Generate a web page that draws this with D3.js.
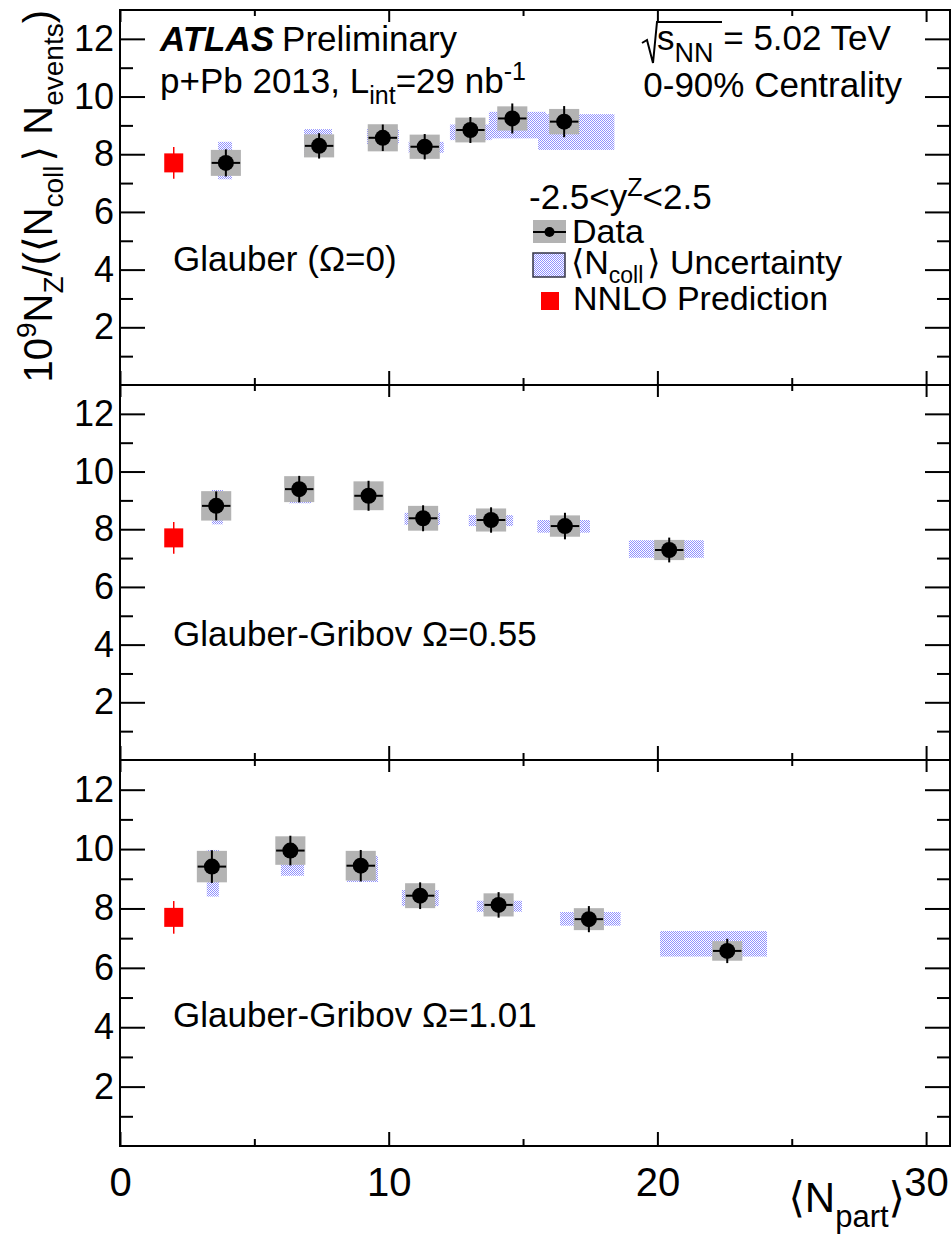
<!DOCTYPE html>
<html>
<head>
<meta charset="utf-8">
<script src="https://cdn.jsdelivr.net/npm/d3@7"></script>
<style>
body { margin: 0; background: #fff; }
svg text { font-family: "Liberation Sans", Arial, Helvetica, "DejaVu Sans", sans-serif; fill: #000; }
</style>
</head>
<body>
<div id="chart"></div>
<script>
// NNLO prediction (same in every panel)
var nnloNpart = 2.0, nnloValue = 7.70, nnloErr = 0.55;

var panelLabels = ["Glauber (\u03A9=0)", "Glauber-Gribov \u03A9=0.55", "Glauber-Gribov \u03A9=1.01"];

// Glauber, Omega = 0
var npart0 = [3.94, 7.41, 9.78, 11.34, 13.04, 14.60, 16.53];
var value0 = [7.70, 8.29, 8.57, 8.26, 8.84, 9.24, 9.13];
var stat0  = [0.47, 0.44, 0.46, 0.44, 0.45, 0.52, 0.54];
var sys0   = [0.45, 0.40, 0.47, 0.42, 0.43, 0.42, 0.44];
// <Ncoll> uncertainty boxes: [npart lo, npart hi, value lo, value hi]
var ncoll0 = [[3.65, 4.17, 7.13, 8.43], [6.85, 7.89, 7.91, 8.87], [9.19, 10.38, 8.35, 8.87],
              [10.74, 12.05, 8.05, 8.43], [12.28, 13.83, 8.49, 9.03], [13.73, 15.85, 8.55, 9.47],
              [15.56, 18.40, 8.15, 9.39]];

// Glauber-Gribov, Omega = 0.55
var npart1 = [3.58, 6.67, 9.25, 11.28, 13.81, 16.56, 20.44];
var value1 = [8.81, 9.39, 9.16, 8.38, 8.32, 8.11, 7.28];
var stat1  = [0.50, 0.46, 0.52, 0.45, 0.44, 0.46, 0.43];
var sys1   = [0.51, 0.45, 0.50, 0.43, 0.40, 0.37, 0.35];
var ncoll1 = [[3.42, 3.83, 8.17, 9.36], [6.29, 7.11, 8.90, 9.50], [8.95, 9.55, 8.85, 9.45],
              [10.59, 11.91, 8.15, 8.57], [12.98, 14.63, 8.11, 8.49], [15.53, 17.49, 7.88, 8.32],
              [18.94, 21.73, 7.01, 7.62]];

// Glauber-Gribov, Omega = 1.01
var npart2 = [3.42, 6.34, 8.96, 11.17, 14.09, 17.45, 22.60];
var value2 = [9.41, 9.95, 9.44, 8.43, 8.12, 7.64, 6.57];
var stat2  = [0.55, 0.50, 0.53, 0.45, 0.43, 0.44, 0.41];
var sys2   = [0.53, 0.48, 0.50, 0.42, 0.39, 0.37, 0.33];
var ncoll2 = [[3.23, 3.68, 8.40, 9.97], [5.99, 6.85, 9.10, 9.80], [8.45, 9.60, 8.89, 9.77],
              [10.49, 11.86, 8.08, 8.62], [13.28, 14.96, 7.89, 8.26], [16.38, 18.63, 7.42, 7.88],
              [20.10, 24.08, 6.38, 7.24]];

var xTicks = [0, 10, 20, 30], xMinor = [5, 15, 25];
var yTicks = [2, 4, 6, 8, 10, 12], yMinor = [1, 3, 5, 7, 9, 11];

var panels = [
  {npart: npart0, value: value0, stat: stat0, sys: sys0, ncoll: ncoll0},
  {npart: npart1, value: value1, stat: stat1, sys: sys1, ncoll: ncoll1},
  {npart: npart2, value: value2, stat: stat2, sys: sys2, ncoll: ncoll2}
];

var font = '"Liberation Sans", Arial, Helvetica, "DejaVu Sans", sans-serif';
var left = 120, right = 950;
var panelTop = [10, 385, 760], panelBottom = [385, 760, 1146];
var boxHalf = 0.56, barHalf = 0.53;

var svg = d3.select("#chart").append("svg")
    .attr("width", 952)
    .attr("height", 1235);

// checker fill used for the <Ncoll> boxes
var pat = svg.append("defs").append("pattern")
    .attr("id", "ncollFill")
    .attr("width", 2).attr("height", 2)
    .attr("patternUnits", "userSpaceOnUse");
pat.append("rect").attr("width", 1).attr("height", 1).attr("fill", "#9090ff");
pat.append("rect").attr("x", 1).attr("y", 1).attr("width", 1).attr("height", 1).attr("fill", "#9090ff");

var x = d3.scaleLinear().domain([0, 30.89]).range([left, right]);

function styleAxis(g, labels, size) {
  g.select(".domain").remove();
  g.selectAll(".tick line").attr("stroke", "#000").attr("stroke-width", 2);
  g.attr("font-family", font).attr("font-size", size || 35);
  if (!labels) g.selectAll(".tick text").remove();
}

panels.forEach(function(p, i) {
  var y = d3.scaleLinear().domain([0, 13]).range([panelBottom[i], panelTop[i]]);
  var g = svg.append("g");

  var pts = p.npart.map(function(n, j) {
    return {n: n, v: p.value[j], stat: p.stat[j], sys: p.sys[j]};
  });

  // <Ncoll> uncertainty boxes
  g.selectAll("rect.ncoll").data(p.ncoll).enter().append("rect")
      .attr("class", "ncoll")
      .attr("x", function(d) { return x(d[0]); })
      .attr("width", function(d) { return x(d[1]) - x(d[0]); })
      .attr("y", function(d) { return y(d[3]); })
      .attr("height", function(d) { return y(d[2]) - y(d[3]); })
      .attr("fill", "url(#ncollFill)");

  // systematic boxes
  g.selectAll("rect.sys").data(pts).enter().append("rect")
      .attr("class", "sys")
      .attr("x", function(d) { return x(d.n - boxHalf); })
      .attr("width", function(d) { return x(d.n + boxHalf) - x(d.n - boxHalf); })
      .attr("y", function(d) { return y(d.v + d.sys); })
      .attr("height", function(d) { return y(d.v - d.sys) - y(d.v + d.sys); })
      .attr("fill", "#b3b3b3");

  // NNLO prediction
  g.append("line")
      .attr("x1", x(nnloNpart)).attr("x2", x(nnloNpart))
      .attr("y1", y(nnloValue + nnloErr)).attr("y2", y(nnloValue - nnloErr))
      .attr("stroke", "#ff0000").attr("stroke-width", 1.5);
  g.append("rect")
      .attr("x", x(nnloNpart) - 9.5).attr("y", y(nnloValue) - 9.5)
      .attr("width", 19).attr("height", 19)
      .attr("fill", "#ff0000");

  // error bars
  g.selectAll("line.ey").data(pts).enter().append("line")
      .attr("x1", function(d) { return x(d.n); })
      .attr("x2", function(d) { return x(d.n); })
      .attr("y1", function(d) { return y(d.v + d.stat); })
      .attr("y2", function(d) { return y(d.v - d.stat); })
      .attr("stroke", "#000").attr("stroke-width", 2);
  g.selectAll("line.ex").data(pts).enter().append("line")
      .attr("x1", function(d) { return x(d.n - barHalf); })
      .attr("x2", function(d) { return x(d.n + barHalf); })
      .attr("y1", function(d) { return y(d.v); })
      .attr("y2", function(d) { return y(d.v); })
      .attr("stroke", "#000").attr("stroke-width", 2);

  // markers
  g.selectAll("circle").data(pts).enter().append("circle")
      .attr("cx", function(d) { return x(d.n); })
      .attr("cy", function(d) { return y(d.v); })
      .attr("r", 8)
      .attr("fill", "#000");

  // axes, ticks on all four sides pointing inward
  svg.append("g").attr("transform", "translate(" + left + ",0)")
      .call(d3.axisLeft(y).tickValues(yTicks).tickSizeInner(-25).tickSizeOuter(0)
            .tickPadding(6).tickFormat(d3.format("d")))
      .call(styleAxis, true, 36);
  svg.append("g").attr("transform", "translate(" + left + ",0)")
      .call(d3.axisLeft(y).tickValues(yMinor).tickSize(-13))
      .call(styleAxis, false);
  svg.append("g").attr("transform", "translate(" + right + ",0)")
      .call(d3.axisRight(y).tickValues(yTicks).tickSize(-25))
      .call(styleAxis, false);
  svg.append("g").attr("transform", "translate(" + right + ",0)")
      .call(d3.axisRight(y).tickValues(yMinor).tickSize(-13))
      .call(styleAxis, false);

  var last = i === panels.length - 1;
  svg.append("g").attr("transform", "translate(0," + panelBottom[i] + ")")
      .call(d3.axisBottom(x).tickValues(xTicks).tickSizeInner(-14).tickSizeOuter(0)
            .tickPadding(22).tickFormat(d3.format("d")))
      .call(styleAxis, last, 40);
  svg.append("g").attr("transform", "translate(0," + panelBottom[i] + ")")
      .call(d3.axisBottom(x).tickValues(xMinor).tickSize(-7))
      .call(styleAxis, false);
  svg.append("g").attr("transform", "translate(0," + panelTop[i] + ")")
      .call(d3.axisTop(x).tickValues(xTicks).tickSize(-12))
      .call(styleAxis, false);
  svg.append("g").attr("transform", "translate(0," + panelTop[i] + ")")
      .call(d3.axisTop(x).tickValues(xMinor).tickSize(-6))
      .call(styleAxis, false);

  // frame
  svg.append("rect")
      .attr("x", left).attr("y", panelTop[i])
      .attr("width", right - left).attr("height", panelBottom[i] - panelTop[i])
      .attr("fill", "none").attr("stroke", "#000").attr("stroke-width", 2);

  svg.append("text")
      .attr("x", 173).attr("y", [271, 646, 1027][i])
      .attr("font-size", 35)
      .text(panelLabels[i]);
});

// ATLAS label
var t1 = svg.append("text").attr("x", 160).attr("y", 51).attr("font-size", 35);
t1.append("tspan").attr("font-weight", "bold").attr("font-style", "italic").text("ATLAS");
t1.append("tspan").attr("dx", 8).text("Preliminary");

var t2 = svg.append("text").attr("x", 160).attr("y", 93).attr("font-size", 35);
t2.append("tspan").text("p+Pb 2013, L");
t2.append("tspan").attr("font-size", 25).attr("dy", 11).text("int");
t2.append("tspan").attr("dy", -11).text("=29 nb");
t2.append("tspan").attr("font-size", 25).attr("dy", -13).text("-1");

// sqrt(s_NN)
svg.append("path")
    .attr("d", "M642,43 L647,40 L653,63 L657,22 L722,22")
    .attr("fill", "none").attr("stroke", "#000").attr("stroke-width", 2);
var t3 = svg.append("text").attr("x", 657).attr("y", 50).attr("font-size", 35);
t3.append("tspan").text("s");
t3.append("tspan").attr("font-size", 27).attr("dy", 12).text("NN");
t3.append("tspan").attr("dy", -12).text(" = 5.02 TeV");

svg.append("text").attr("x", 902).attr("y", 97).attr("font-size", 35)
    .attr("text-anchor", "end").text("0-90% Centrality");

// legend
var t4 = svg.append("text").attr("x", 529).attr("y", 209).attr("font-size", 35);
t4.append("tspan").text("-2.5<y");
t4.append("tspan").attr("font-size", 25).attr("dy", -13).text("Z");
t4.append("tspan").attr("dy", 13).text("<2.5");

svg.append("rect").attr("x", 533).attr("y", 220).attr("width", 33).attr("height", 23).attr("fill", "#b3b3b3");
svg.append("line").attr("x1", 533).attr("x2", 566).attr("y1", 232).attr("y2", 232)
    .attr("stroke", "#000").attr("stroke-width", 2);
svg.append("circle").attr("cx", 549.5).attr("cy", 232).attr("r", 5).attr("fill", "#000");
svg.append("text").attr("x", 572).attr("y", 243).attr("font-size", 34).text("Data");

svg.append("rect").attr("x", 533).attr("y", 253).attr("width", 32).attr("height", 24)
    .attr("fill", "url(#ncollFill)").attr("stroke", "#333344").attr("stroke-width", 1.5);
var t5 = svg.append("text").attr("x", 571).attr("y", 274).attr("font-size", 34);
t5.append("tspan").attr("font-family", '"DejaVu Sans", sans-serif').text("\u27E8");
t5.append("tspan").text("N");
t5.append("tspan").attr("font-size", 23).attr("dy", 9).text("coll");
t5.append("tspan").attr("dy", -9).attr("dx", 4).attr("font-family", '"DejaVu Sans", sans-serif').text("\u27E9");
t5.append("tspan").text(" Uncertainty");

svg.append("rect").attr("x", 541).attr("y", 292).attr("width", 18).attr("height", 18).attr("fill", "#ff0000");
svg.append("text").attr("x", 573).attr("y", 310).attr("font-size", 34).text("NNLO Prediction");

// y axis title
var yt = svg.append("text")
    .attr("transform", "translate(52,10) rotate(-90)")
    .attr("text-anchor", "end")
    .attr("font-size", 40);
yt.append("tspan").text("10");
yt.append("tspan").attr("font-size", 28).attr("dy", -16).text("9");
yt.append("tspan").attr("dy", 16).text("N");
yt.append("tspan").attr("font-size", 28).attr("dy", 11).text("Z");
yt.append("tspan").attr("dy", -11).text("/(");
yt.append("tspan").attr("font-family", '"DejaVu Sans", sans-serif').text("\u27E8");
yt.append("tspan").text("N");
yt.append("tspan").attr("font-size", 28).attr("dy", 11).text("coll");
yt.append("tspan").attr("dy", -11).attr("dx", 4).attr("font-family", '"DejaVu Sans", sans-serif').text("\u27E9");
yt.append("tspan").text(" N");
yt.append("tspan").attr("font-size", 28).attr("dy", 11).text("events");
yt.append("tspan").attr("dy", -11).text(")");

// x axis title
var xt = svg.append("text").attr("x", 905).attr("y", 1212)
    .attr("text-anchor", "end").attr("font-size", 42);
xt.append("tspan").attr("font-family", '"DejaVu Sans", sans-serif').text("\u27E8");
xt.append("tspan").text("N");
xt.append("tspan").attr("font-size", 31).attr("dy", 15).text("part");
xt.append("tspan").attr("dy", -15).attr("font-family", '"DejaVu Sans", sans-serif').text("\u27E9");
</script>
</body>
</html>
